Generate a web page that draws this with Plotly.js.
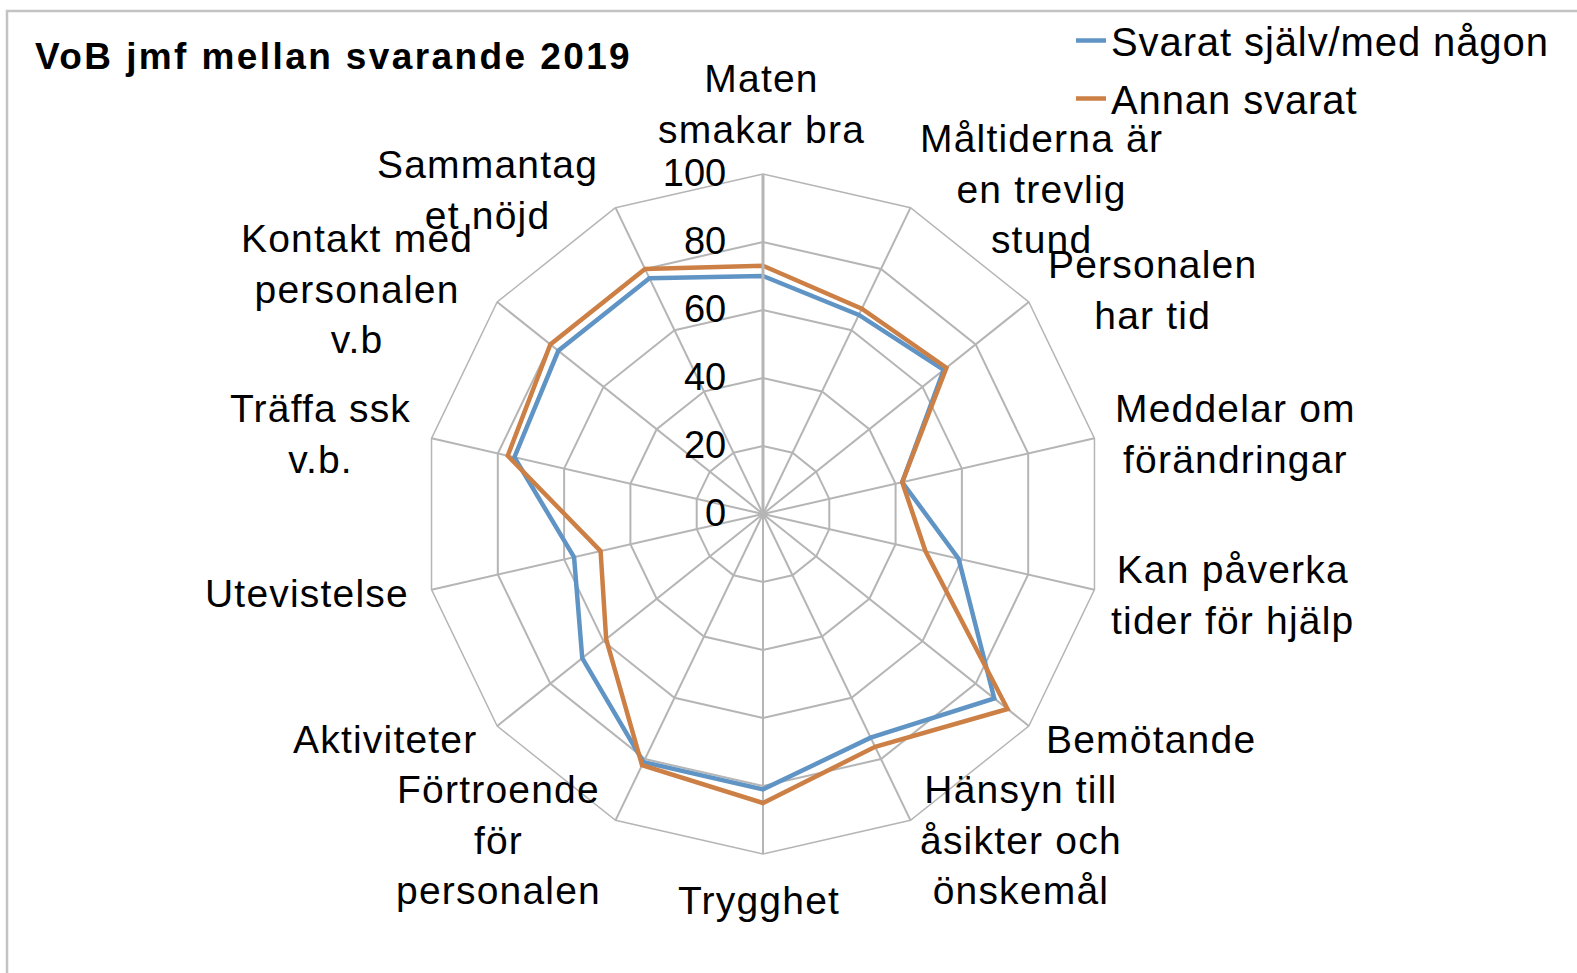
<!DOCTYPE html>
<html>
<head>
<meta charset="utf-8">
<script src="https://cdn.plot.ly/plotly-3.0.1.min.js"></script>
<style>
html,body{margin:0;padding:0;background:#fff}
.gtitle{letter-spacing:2.4px}
.annotation-text{letter-spacing:1.2px}
.legendtext{letter-spacing:0.9px}
.polar .radialaxis text, .radialaxis .xtick text, .radialaxis .ytick text{letter-spacing:1.5px}
</style>
</head>
<body>
<div id="chart" style="width:1577px;height:973px"></div>
<script>
// ---- data ----
const categories = [
  "Maten smakar bra",
  "Måltiderna är en trevlig stund",
  "Personalen har tid",
  "Meddelar om förändringar",
  "Kan påverka tider för hjälp",
  "Bemötande",
  "Hänsyn till åsikter och önskemål",
  "Trygghet",
  "Förtroende för personalen",
  "Aktiviteter",
  "Utevistelse",
  "Träffa ssk v.b.",
  "Kontakt med personalen v.b",
  "Sammantaget nöjd"
];
const categoryLabels = [
  "Maten<br>smakar bra",
  "Måltiderna är<br>en trevlig<br>stund",
  "Personalen<br>har tid",
  "Meddelar om<br>förändringar",
  "Kan påverka<br>tider för hjälp",
  "Bemötande",
  "Hänsyn till<br>åsikter och<br>önskemål",
  "Trygghet",
  "Förtroende<br>för<br>personalen",
  "Aktiviteter",
  "Utevistelse",
  "Träffa ssk<br>v.b.",
  "Kontakt med<br>personalen<br>v.b",
  "Sammantag<br>et nöjd"
];
const seriesNames = ["Svarat själv/med någon", "Annan svarat"];
const svaratSjalv = [70, 65, 68, 42, 59, 87, 73, 81, 81, 68, 57, 75, 77, 77];
const annanSvarat = [73, 67, 69, 42, 49, 92, 76, 85, 82, 59, 49, 77, 80, 80];
const radialTicks = [0, 20, 40, 60, 80, 100];

// ---- layout helpers (pixel positions of label blocks) ----
const W = 1577, H = 973;
const labelPos = [
  [761, 104], [1041, 189], [1152, 290], [1235, 434], [1232, 595],
  [1151, 739], [1021, 840], [759, 900], [498, 840], [385, 739],
  [307, 593], [320, 434], [357, 289], [487, 190]
];
const px = x => x / W;
const py = y => 1 - y / H;
const FONT = "Liberation Sans, Arial, sans-serif";

const closed = arr => arr.concat([arr[0]]);
const theta = closed(categories);

const traces = [
  {
    type: "scatterpolar", mode: "lines", name: seriesNames[0],
    r: closed(svaratSjalv), theta: theta,
    line: {color: "#5f94c4", width: 4.5}, legendgroup: "a", hoverinfo: "r+theta"
  },
  {
    type: "scatterpolar", mode: "lines", name: seriesNames[1],
    r: closed(annanSvarat), theta: theta,
    line: {color: "#cd8046", width: 4.5}, legendgroup: "b", hoverinfo: "r+theta"
  }
];

const annotations = categoryLabels.map((t, i) => ({
  text: t, xref: "paper", yref: "paper",
  x: px(labelPos[i][0]), y: py(labelPos[i][1]),
  xanchor: "center", yanchor: "middle", align: "center",
  showarrow: false, font: {family: FONT, size: 39, color: "#000"}
}));

const layout = {
  width: W, height: H,
  margin: {l: 0, r: 0, t: 0, b: 0},
  paper_bgcolor: "#fff",
  font: {family: FONT, color: "#000"},
  title: {
    text: "<b>VoB jmf mellan svarande 2019</b>",
    x: px(35), xanchor: "left", xref: "paper",
    y: py(56), yanchor: "middle", yref: "paper",
    font: {family: FONT, size: 37, color: "#000"}
  },
  showlegend: true,
  legend: {
    x: px(1071), xanchor: "left", y: py(8), yanchor: "top",
    font: {family: FONT, size: 40, color: "#000"},
    bgcolor: "rgba(0,0,0,0)", tracegroupgap: 3, itemwidth: 30
  },
  polar: {
    domain: {x: [px(423), px(1103)], y: [py(854), py(174)]},
    bgcolor: "#fff",
    gridshape: "linear",
    angularaxis: {
      type: "category", direction: "clockwise", rotation: 90,
      showticklabels: false, ticks: "",
      showgrid: true, gridcolor: "#b5b5b5", gridwidth: 1.5,
      showline: true, linecolor: "#b5b5b5", linewidth: 1.5
    },
    radialaxis: {
      range: [0, 100], tickvals: radialTicks, angle: 90, tickangle: 90,
      side: "counterclockwise",
      ticks: "outside", ticklen: 22, tickcolor: "rgba(0,0,0,0)",
      showline: true, linecolor: "#b5b5b5", linewidth: 3,
      showgrid: true, gridcolor: "#b5b5b5", gridwidth: 1.5,
      tickfont: {family: FONT, size: 38, color: "#000"}
    }
  },
  annotations: annotations,
  shapes: [{
    type: "rect", xref: "paper", yref: "paper",
    x0: px(7), x1: 1.05, y0: -0.05, y1: py(11),
    line: {color: "#c3c3c3", width: 2.5}, fillcolor: "rgba(0,0,0,0)", layer: "below"
  }]
};

Plotly.newPlot("chart", traces, layout, {displayModeBar: false, responsive: false});
</script>
</body>
</html>
